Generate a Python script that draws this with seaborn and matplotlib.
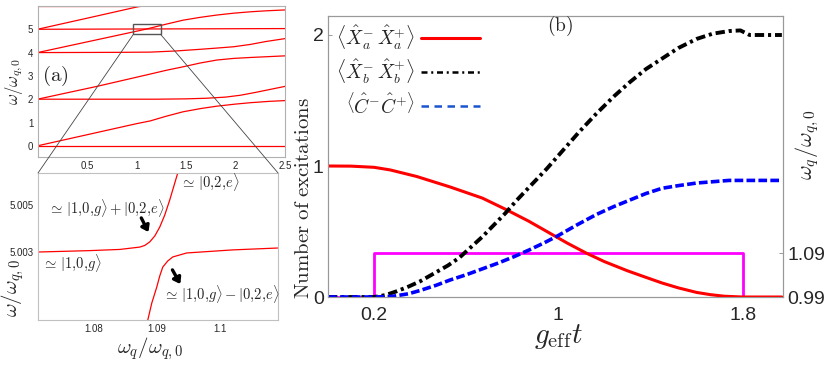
import matplotlib
matplotlib.use('Agg')
import matplotlib.pyplot as plt
import seaborn as sns
from matplotlib.patches import Rectangle, ConnectionPatch
from matplotlib.lines import Line2D

# ---- (a) top: energy levels vs omega_q / omega_q0 ----
rise0_x = [0, 0.6, 1.0, 1.14, 1.3, 1.47, 1.65, 1.81, 2.0, 2.15, 2.35, 2.5]
rise0_y = [0, 0.57, 0.95, 1.07, 1.27, 1.46, 1.60, 1.70, 1.79, 1.85, 1.91, 1.94]
flat0_x = [0, 2.5]
flat0_y = [0, 0]
flat2_x = [0, 1.2, 1.5, 1.7, 1.9, 2.05, 2.2, 2.35, 2.5]
flat2_y = [2, 2.0, 2.015, 2.04, 2.09, 2.17, 2.29, 2.42, 2.55]
rise2_x = [0, 0.6, 1.14, 1.3, 1.47, 1.64, 1.81, 1.98, 2.15, 2.3, 2.5]
rise2_y = [2, 2.55, 3.08, 3.24, 3.39, 3.55, 3.68, 3.75, 3.79, 3.82, 3.86]
flat4_x = [0, 0.8, 1.14, 1.4, 1.64, 1.8, 1.98, 2.15, 2.3, 2.5]
flat4_y = [4, 4.01, 4.02, 4.07, 4.14, 4.19, 4.25, 4.35, 4.47, 4.6]
rise4_x = [0, 0.6, 1.09, 1.3, 1.47, 1.64, 1.81, 1.98, 2.15, 2.3, 2.5]
rise4_y = [4, 4.55, 5.0, 5.22, 5.39, 5.51, 5.61, 5.69, 5.75, 5.79, 5.83]
flat5_x = [0, 2.5]
flat5_y = [5.0, 5.03]
rise5_x = [0, 0.6, 1.1]
rise5_y = [5.0, 5.57, 6.05]
flat6_x = [0, 1.04]
flat6_y = [6.0, 6.0]
top_levels = [(flat0_x, flat0_y), (rise0_x, rise0_y), (flat2_x, flat2_y),
              (rise2_x, rise2_y), (flat4_x, flat4_y), (rise4_x, rise4_y),
              (flat5_x, flat5_y), (rise5_x, rise5_y), (flat6_x, flat6_y)]
zoom_box = (0.968, 4.78, 0.276, 0.44)

# ---- (a) bottom: avoided crossing ----
upper_x = [1.0712, 1.07942, 1.08415, 1.08731, 1.0881, 1.08889, 1.08968,
           1.09047, 1.09126, 1.09205, 1.09332]
upper_y = [5.0030, 5.00306, 5.00311, 5.00321, 5.00328, 5.00343, 5.00368,
           5.00406, 5.00457, 5.00521, 5.00636]
lower_x = [1.08858, 1.08921, 1.09, 1.09047, 1.09095, 1.09174, 1.09253,
           1.09474, 1.10201, 1.10912]
lower_y = [5.00011, 5.00083, 5.00151, 5.00198, 5.00236, 5.00262, 5.00279,
           5.00296, 5.00309, 5.00317]

# ---- (b) excitations vs g_eff t ----
t_red = [0, 0.1, 0.2, 0.27, 0.385, 0.53, 0.67, 0.77, 0.87, 0.96, 1.04, 1.12, 1.2,
         1.3, 1.38, 1.45, 1.52, 1.6, 1.66, 1.72, 1.8, 1.97]
n_red = [1.0, 0.999, 0.99, 0.97, 0.92, 0.84, 0.755, 0.67, 0.58, 0.49, 0.41, 0.336, 0.27,
         0.2, 0.15, 0.107, 0.07, 0.035, 0.018, 0.006, 0, 0]
t_blk = [0, 0.2, 0.25, 0.3, 0.35, 0.4, 0.46, 0.52, 0.57, 0.62, 0.67, 0.72, 0.77, 0.82,
         0.874, 0.95, 1.02, 1.09, 1.165, 1.24, 1.31, 1.38, 1.45, 1.52, 1.6, 1.67, 1.74,
         1.79, 1.83, 1.9, 1.97]
n_blk = [0, 0, 0.015, 0.045, 0.08, 0.12, 0.18, 0.24, 0.3, 0.38, 0.46, 0.55, 0.64, 0.74,
         0.84, 0.98, 1.12, 1.26, 1.40, 1.53, 1.64, 1.74, 1.82, 1.90, 1.97, 2.01, 2.03,
         2.035, 2.0, 2.0, 2.0]
t_blu = [0, 0.2, 0.28, 0.35, 0.4, 0.47, 0.53, 0.6, 0.67, 0.74, 0.81, 0.874, 0.94, 1.0,
         1.08, 1.165, 1.24, 1.31, 1.38, 1.45, 1.52, 1.6, 1.67, 1.74, 1.97]
n_blu = [0, 0, 0.005, 0.025, 0.05, 0.09, 0.13, 0.17, 0.215, 0.26, 0.31, 0.36, 0.415,
         0.47, 0.55, 0.63, 0.69, 0.74, 0.79, 0.83, 0.85, 0.87, 0.88, 0.89, 0.89]
t_pulse = [0, 0.2, 0.2, 1.8, 1.8, 1.97]
wq_pulse = [0.99, 0.99, 1.09, 1.09, 0.99, 0.99]

legend_labels = [r'$\left\langle \hat{X}_a^{-}\,\hat{X}_a^{+} \right\rangle$',
                 r'$\left\langle \hat{X}_b^{-}\,\hat{X}_b^{+} \right\rangle$',
                 r'$\left\langle \hat{C}^{-}\hat{C}^{+} \right\rangle$']

sns.set_style('white')
plt.rcParams['font.family'] = ['Liberation Sans', 'DejaVu Sans']
plt.rcParams['mathtext.fontset'] = 'cm'


def line(ax, x, y, **kw):
    sns.lineplot(x=x, y=y, ax=ax, sort=False, estimator=None, **kw)


def style_axes(ax, color, size, length=3):
    for s in ax.spines.values():
        s.set_color(color)
        s.set_linewidth(0.8)
    ax.tick_params(direction='in', length=length, width=0.7, color=color,
                   labelsize=size, pad=3)


fig = plt.figure(figsize=(8.3, 3.67), dpi=100)
ax_top = fig.add_axes([0.0452, 0.5722, 0.2982, 0.4128])
ax_in = fig.add_axes([0.0458, 0.1281, 0.2892, 0.4005])
ax_b = fig.add_axes([0.3952, 0.1907, 0.5482, 0.7657])
ax_r = ax_b.twinx()

# top panel
for xs, ys in top_levels:
    line(ax_top, xs, ys, color='red', lw=0.9)
ax_top.set_xlim(0, 2.5)
ax_top.set_ylim(-0.48, 6.02)
ax_top.set_xticks([0.5, 1, 1.5, 2, 2.5], ['0.5', '1', '1.5', '2', '2.5'])
ax_top.set_yticks([0, 1, 2, 3, 4, 5])
style_axes(ax_top, '#b0b0b0', 7)
ax_top.set_ylabel(r'$\omega/\omega_{q,0}$', fontsize=12)
ax_top.yaxis.set_label_coords(-0.05, 0.5)
ax_top.text(0.018, 0.535, r'$\mathrm{(a)}$', transform=ax_top.transAxes,
            fontsize=15, ha='left', va='center')
ax_top.add_patch(Rectangle(zoom_box[:2], zoom_box[2], zoom_box[3], fill=False,
                           ec='#555555', lw=1.0, zorder=5))

# inset
line(ax_in, upper_x, upper_y, color='red', lw=0.9)
line(ax_in, lower_x, lower_y, color='red', lw=0.9)
ax_in.set_xlim(1.0712, 1.1092)
ax_in.set_ylim(5.00011, 5.00636)
ax_in.set_xticks([1.08, 1.09, 1.1], ['1.08', '1.09', '1.1'])
ax_in.set_yticks([5.001, 5.003, 5.005], ['', '5.003', '5.005'])
style_axes(ax_in, '#c0c0c0', 7)
ax_in.set_ylabel(r'$\omega/\omega_{q,0}$', fontsize=15)
ax_in.yaxis.set_label_coords(-0.05, 0.22)
ax_in.set_xlabel(r'$\omega_q/\omega_{q,0}$', fontsize=15)
ax_in.xaxis.set_label_coords(0.467, -0.1)
tkw = dict(transform=ax_in.transAxes, ha='left', va='center', fontsize=10.5)
ax_in.text(0.592, 0.939, r'$\simeq\,|0{,}2{,}e\rangle$', **tkw)
ax_in.text(0.042, 0.762, r'$\simeq\,|1{,}0{,}g\rangle+|0{,}2{,}e\rangle$', **tkw)
ax_in.text(0.017, 0.388, r'$\simeq\,|1{,}0{,}g\rangle$', **tkw)
ax_in.text(0.52, 0.177, r'$\simeq\,|1{,}0{,}g\rangle-|0{,}2{,}e\rangle$', **tkw)
akw = dict(arrowstyle='-|>,head_length=0.35,head_width=0.25', color='black', lw=2.4,
           shrinkA=0, shrinkB=0, mutation_scale=10)
ax_in.annotate('', xy=(1.08868, 5.00385), xytext=(1.08755, 5.00445), arrowprops=akw)
ax_in.annotate('', xy=(1.09373, 5.00164), xytext=(1.09248, 5.00224), arrowprops=akw)

for xa, xb in [(0, 1), (1, 1)]:
    cp = ConnectionPatch(xyA=(zoom_box[0] + xa * zoom_box[2], zoom_box[1]),
                         coordsA=ax_top.transData, xyB=(xa, xb),
                         coordsB=ax_in.transAxes, color='#444444', lw=0.6)
    fig.add_artist(cp)

# panel (b)
line(ax_r, t_pulse, wq_pulse, color='#ff00ff', lw=2.0)
line(ax_b, t_red, n_red, color='red', lw=2.2)
line(ax_b, t_blk, n_blk, color='black', lw=2.8, linestyle=(0, (2.4, 1.0, 0.8, 1.0)))
line(ax_b, t_blu, n_blu, color='blue', lw=2.6, linestyle=(0, (2.4, 0.9)))
ax_b.set_zorder(ax_r.get_zorder() + 1)
ax_b.patch.set_visible(False)
ax_b.set_xlim(0, 1.975)
ax_b.set_ylim(0, 2.145)
ax_r.set_ylim(0.99, 1.629)
ax_b.set_xticks([0.2, 1, 1.8], ['0.2', '1', '1.8'])
ax_b.set_yticks([0, 1, 2], ['0', '1', '2'])
ax_r.set_yticks([0.99, 1.09], ['0.99', '1.09'])
style_axes(ax_b, '#999999', 14)
style_axes(ax_r, '#999999', 14)
ax_b.tick_params(axis='x', pad=7)
ax_r.grid(False)
ax_b.grid(False)

handles = [Line2D([], [], color='red', lw=2.2),
           Line2D([], [], color='black', lw=1.8, linestyle=(0, (2.4, 1.5, 0.8, 1.5))),
           Line2D([], [], color='#1a55d0', lw=1.8, linestyle=(0, (3, 2.2)))]
ax_b.legend(handles, legend_labels, loc='upper left', bbox_to_anchor=(0.018, 0.975),
            markerfirst=False, frameon=False, fontsize=14, handlelength=3.0,
            handletextpad=0.3, labelspacing=0.3, borderpad=0, borderaxespad=0)

fig.text(0.366, 0.46, r'$\mathrm{Number\ of\ excitations}$', rotation=90,
         ha='center', va='center', fontsize=15)
fig.text(0.673, 0.082, r'$g_{\mathrm{eff}}t$', ha='center', va='center', fontsize=21)
fig.text(0.973, 0.605, r'$\omega_q/\omega_{q,0}$', rotation=90, ha='center',
         va='center', fontsize=16)
fig.text(0.675, 0.93, r'$\mathrm{(b)}$', ha='center', va='center', fontsize=14)

fig.savefig('out.png', dpi=100)
